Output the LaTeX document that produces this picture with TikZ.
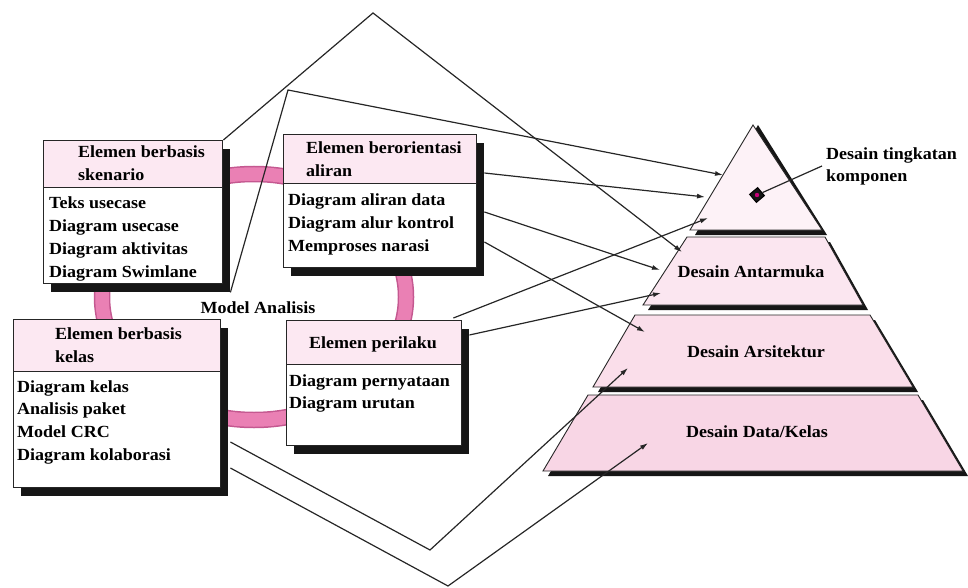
\documentclass[tikz,border=0pt]{standalone}
\usepackage{fontspec}
\setmainfont[FakeStretch=1.06]{Liberation Serif}
\usetikzlibrary{arrows.meta,calc,shadows}

\definecolor{ink}{RGB}{38,38,38}
\definecolor{shade}{RGB}{22,22,22}
\definecolor{hdrpink}{RGB}{252,232,242}
\definecolor{ringpink}{RGB}{234,128,180}
\definecolor{ringedge}{RGB}{196,88,144}
\definecolor{lvA}{RGB}{253,242,247}
\definecolor{lvB}{RGB}{251,230,240}
\definecolor{lvC}{RGB}{250,222,234}
\definecolor{lvD}{RGB}{248,214,229}
\definecolor{markc}{RGB}{200,0,120}

\tikzset{
  x=1pt, y=-1pt,
  boxframe/.style={rectangle, draw=ink, line width=1.4pt, fill=white, inner sep=0pt,
    anchor=north west,
    drop shadow={shadow xshift=7pt, shadow yshift=-8pt, fill=shade, opacity=1}},
  boxhead/.style={rectangle, draw=ink, line width=1.4pt, fill=hdrpink, inner sep=0pt,
    anchor=north west},
  txt/.style={inner sep=0pt, font=\fontsize{17}{23}\selectfont\bfseries},
  lbl/.style={txt, anchor=base west},
  layer/.style={draw=ink, line width=0.9pt},
  layershade/.style={fill=shade},
  conn/.style={draw=ink, line width=1.2pt, line join=miter},
  arr/.style={conn, -{Latex[length=8pt, width=5pt]}},
}

\begin{document}
\begin{tikzpicture}
\useasboundingbox (0,0) rectangle (968,588);

% ring joining the four analysis elements
\draw[ringedge, line width=16.5pt] (254,297) ellipse [x radius=152, y radius=123];
\draw[ringpink, line width=13.5pt] (254,297) ellipse [x radius=152, y radius=123];

% scenario-based elements
\node[boxframe, minimum width=179pt, minimum height=143pt] (b1) at (43,140) {};
\node[boxhead, minimum width=179pt, minimum height=47pt] (b1h) at (b1.north west) {};
\node[lbl] (b1a) at (78,158) {Elemen berbasis};
\node[lbl] (b1b) at (78,181) {skenario};
\foreach \t [count=\i] in {Teks usecase, Diagram usecase, Diagram aktivitas, Diagram Swimlane}
  \node[lbl] (b1l\i) at (49,{208+23*(\i-1)}) {\t};

% flow-oriented elements
\node[boxframe, minimum width=193pt, minimum height=133pt] (b2) at (283,134) {};
\node[boxhead, minimum width=193pt, minimum height=49pt] (b2h) at (b2.north west) {};
\node[lbl] (b2a) at (306,154) {Elemen berorientasi};
\node[lbl] (b2b) at (306,176) {aliran};
\foreach \t [count=\i] in {Diagram aliran data, Diagram alur kontrol, Memproses narasi}
  \node[lbl] (b2l\i) at (288,{205+23*(\i-1)}) {\t};

% class-based elements
\node[boxframe, minimum width=207pt, minimum height=168pt] (b3) at (13,319) {};
\node[boxhead, minimum width=207pt, minimum height=52pt] (b3h) at (b3.north west) {};
\node[lbl] (b3a) at (55,339) {Elemen berbasis};
\node[lbl] (b3b) at (55,362) {kelas};
\foreach \t [count=\i] in {Diagram kelas, Analisis paket, Model CRC, Diagram kolaborasi}
  \node[lbl] (b3l\i) at (17,{392+22.7*(\i-1)}) {\t};

% behavioral elements
\node[boxframe, minimum width=175pt, minimum height=125pt] (b4) at (286,320) {};
\node[boxhead, minimum width=175pt, minimum height=44pt] (b4h) at (b4.north west) {};
\node[txt, anchor=base] (b4a) at (373,348) {Elemen perilaku};
\foreach \t [count=\i] in {Diagram pernyataan, Diagram urutan}
  \node[lbl] (b4l\i) at (289,{386+22*(\i-1)}) {\t};

\node[txt, anchor=base] (model) at (258,313) {Model Analisis};

% design pyramid
\fill[layershade] (758,125) -- (827,235) -- (695,235) -- cycle;
\filldraw[layer, fill=lvA] (753,125) -- (822,230) -- (690,230) -- cycle;
\fill[layershade] (692,242) -- (830,242) -- (868,310) -- (648,310) -- cycle;
\filldraw[layer, fill=lvB] (687,237) -- (825,237) -- (863,305) -- (643,305) -- cycle;
\fill[layershade] (640,320) -- (875,320) -- (918,392) -- (598,392) -- cycle;
\filldraw[layer, fill=lvC] (635,315) -- (870,315) -- (913,387) -- (593,387) -- cycle;
\fill[layershade] (593,400) -- (923,400) -- (968,476) -- (548,476) -- cycle;
\filldraw[layer, fill=lvD] (588,395) -- (918,395) -- (963,471) -- (543,471) -- cycle;

\node[txt, anchor=base] (pB) at (751,277) {Desain Antarmuka};
\node[txt, anchor=base] (pC) at (756,357) {Desain Arsitektur};
\node[txt, anchor=base] (pD) at (757,437) {Desain Data/Kelas};

% targets on the pyramid
\coordinate (tA1) at (723,175);
\coordinate (tA2) at (705,197);
\coordinate (tA3) at (708,218);
\coordinate (tB0) at (682,252);
\coordinate (tB1) at (660,270);
\coordinate (tB2) at (661,293);
\coordinate (tC1) at (645,332);
\coordinate (tC2) at (628,368);
\coordinate (tD)  at (648,443);

% bends of the long connectors
\coordinate (apex) at (373,13);
\coordinate (kink) at (288,90);
\coordinate (lowA) at (430,550);
\coordinate (lowB) at (448,586);

% mapping from analysis model to design model
\draw[arr] (b1.north east) -- (apex) -- (tB0);
\draw[arr] ($(b1.south east)+(7,8)$) -- (kink) -- (tA1);
\draw[arr] ($(b2.north east)+(7,39)$) -- (tA2);
\draw[arr] ($(b2.north east)+(7,78)$) -- (tB1);
\draw[arr] ($(b2.north east)+(7,108)$) -- (tC1);
\draw[arr] ($(b4.north east)+(-9,-2)$) -- (tA3);
\draw[arr] ($(b4.north east)+(7,15)$) -- (tB2);
\draw[arr] ($(b3.north east)+(9,123)$) -- (lowA) -- (tC2);
\draw[arr] ($(b3.north east)+(9,149)$) -- (lowB) -- (tD);

% component-level marker and its label
\node[rectangle, draw=black, line width=1pt, fill=shade, minimum size=10.5pt, inner sep=0pt, rotate=40] (cm) at (757,195) {};
\fill[markc] (cm.center) circle (2.2);
\node[lbl] (pA1) at (826,160) {Desain tingkatan};
\node[lbl] (pA2) at (826,182) {komponen};
\coordinate (cmend) at (822,166);
\draw[conn] (cm) -- (cmend);
\end{tikzpicture}
\end{document}
